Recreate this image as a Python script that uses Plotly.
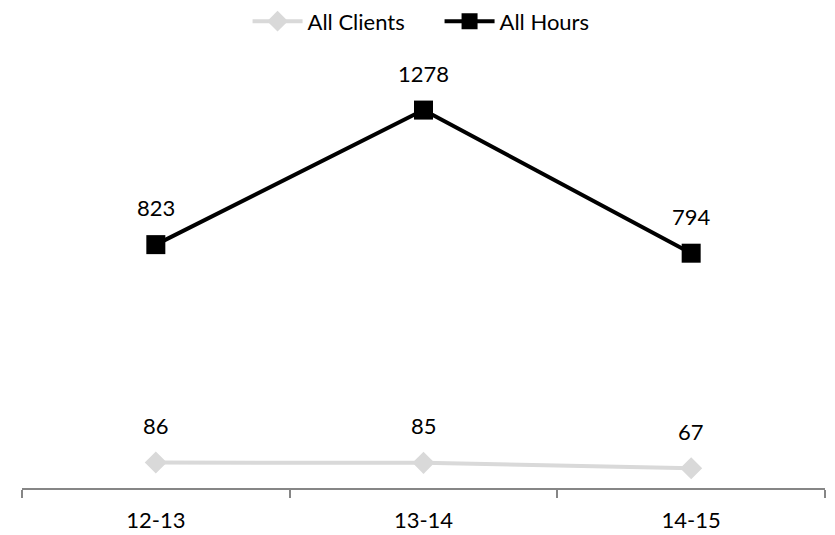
import plotly.graph_objects as go

categories = ["12-13", "13-14", "14-15"]
all_clients = [86, 85, 67]
all_hours = [823, 1278, 794]

FONT = "Lato"
SIZE = 22
fig = go.Figure()
fig.add_trace(go.Scatter(
    x=categories, y=all_clients, name="All Clients", mode="lines+markers",
    line=dict(color="#d9d9d9", width=4),
    marker=dict(symbol="diamond", size=17, color="#d9d9d9"),
))
fig.add_trace(go.Scatter(
    x=categories, y=all_hours, name="All Hours", mode="lines+markers",
    line=dict(color="#000000", width=4),
    marker=dict(symbol="square", size=19, color="#000000"),
))

annotations = []
for series in (all_clients, all_hours):
    for c, v in zip(categories, series):
        annotations.append(dict(x=c, y=v, text=str(v), showarrow=False,
                                yshift=37, font=dict(family=FONT, size=SIZE, color="#000000")))

fig.update_layout(
    width=835, height=535,
    margin=dict(l=14, r=18, t=66, b=55, autoexpand=False),
    paper_bgcolor="white", plot_bgcolor="white",
    font=dict(family=FONT, size=SIZE, color="#000000"),
    showlegend=True,
    legend=dict(orientation="h", x=0.52, xanchor="center", y=0.975, yanchor="middle",
                yref="container", font=dict(family=FONT, size=SIZE),
                tracegroupgap=0, itemwidth=50, entrywidth=127, entrywidthmode="pixels"),
    annotations=annotations,
    xaxis=dict(
        range=[-0.5, 2.5], showgrid=False, zeroline=False,
        showline=True, linecolor="#868686", linewidth=2,
        ticks="outside", ticklen=8, tickcolor="#868686", tickwidth=1.5,
        tickson="boundaries", tickfont=dict(family=FONT, size=SIZE),
        ticklabelstandoff=12,
    ),
    yaxis=dict(range=[0, 1400], visible=False, showgrid=False, zeroline=False),
)
fig.write_html("out.html")
